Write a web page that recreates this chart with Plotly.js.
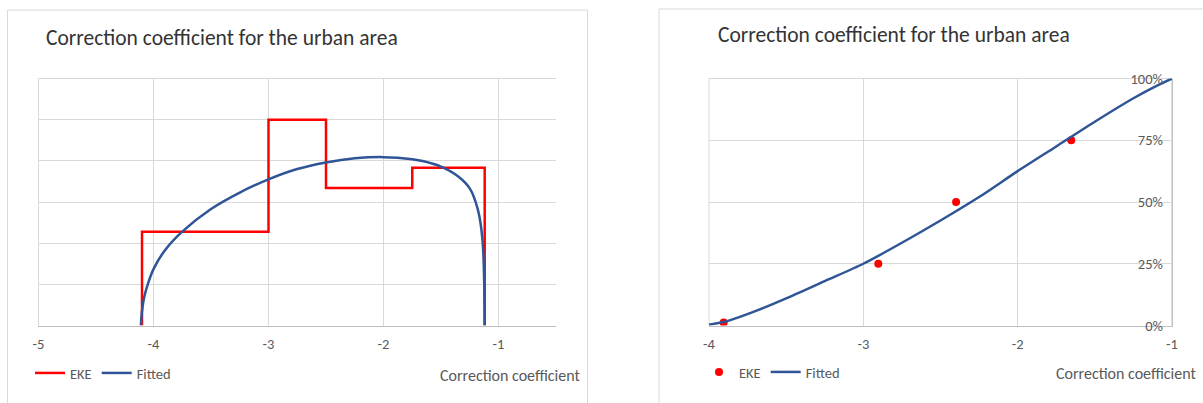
<!DOCTYPE html>
<html>
<head>
<meta charset="utf-8">
<script src="https://cdn.plot.ly/plotly-3.0.1.min.js"></script>
<style>html,body{margin:0;padding:0;background:#fff;}#chart{width:1203px;height:403px;}</style>
</head>
<body>
<div id="chart"></div>
<script>
// ---- Left panel: density (EKE histogram vs fitted) ----
const binEdges = [-4.1, -3.0, -2.5, -1.75, -1.12];
const binHeights = [0.228, 0.5, 0.334, 0.383];
const pdfX = [-4.11, -4.10, -4.08, -4.05, -4.0, -3.9, -3.75, -3.5, -3.25, -3.0, -2.75, -2.5, -2.25, -2.0, -1.75, -1.65, -1.5, -1.35, -1.25, -1.18, -1.14, -1.12];
const pdfY = [0, 0.035, 0.07, 0.1, 0.137, 0.183, 0.228, 0.283, 0.323, 0.355, 0.38, 0.396, 0.406, 0.409, 0.404, 0.399, 0.386, 0.362, 0.333, 0.282, 0.21, 0];
const leftTickVals = [-5, -4, -3, -2, -1];
const leftTickText = ['-5', '-4', '-3', '-2', '-1'];

// ---- Right panel: cumulative (EKE quantiles vs fitted) ----
const ekeX = [-3.905, -2.903, -2.399, -1.653];
const ekeY = [0.012, 0.25, 0.5, 0.75];
const cdfX = [-4.0, -3.9, -3.8, -3.7, -3.5, -3.25, -3.0, -2.75, -2.5, -2.25, -2.0, -1.75, -1.5, -1.25, -1.1, -1.0];
const cdfY = [0.003, 0.015, 0.035, 0.058, 0.11, 0.18, 0.25, 0.335, 0.425, 0.52, 0.625, 0.725, 0.825, 0.92, 0.97, 1.0];
const rightTickVals = [-4, -3, -2, -1];
const rightTickText = ['-4', '-3', '-2', '-1'];
const pctVals = [0, 0.25, 0.5, 0.75, 1];
const pctText = ['0%', '25%', '50%', '75%', '100%'];

const titleText = 'Correction coefficient for the urban area';
const axisTitleText = 'Correction coefficient';

// build step outline from bins
const stepX = [binEdges[0]], stepY = [0];
for (let i = 0; i < binHeights.length; i++) {
  stepX.push(binEdges[i], binEdges[i + 1]);
  stepY.push(binHeights[i], binHeights[i]);
}
stepX.push(binEdges[binEdges.length - 1]); stepY.push(0);

const W = 1203, H = 403;
const px = v => v / W, py = v => 1 - v / H;
const FONT = 'Carlito, Calibri, Lato, sans-serif';
const RED = '#FF0000', BLUE = '#2F5597', GRID = '#D9D9D9', AXIS = '#BFBFBF', TXT = '#595959';

const traces = [
  {x: stepX, y: stepY, type: 'scatter', mode: 'lines', name: 'EKE', xaxis: 'x', yaxis: 'y',
   line: {color: RED, width: 2.5}, legend: 'legend'},
  {x: pdfX, y: pdfY, type: 'scatter', mode: 'lines', name: 'Fitted', xaxis: 'x', yaxis: 'y',
   line: {color: BLUE, width: 2.5, shape: 'spline', smoothing: 1}, legend: 'legend'},
  {x: ekeX, y: ekeY, type: 'scatter', mode: 'markers', name: 'EKE', xaxis: 'x2', yaxis: 'y2',
   marker: {color: RED, size: 8}, legend: 'legend2'},
  {x: cdfX, y: cdfY, type: 'scatter', mode: 'lines', name: 'Fitted', xaxis: 'x2', yaxis: 'y2',
   line: {color: BLUE, width: 2.5, shape: 'spline', smoothing: 0.8}, legend: 'legend2'}
];

const tickFont = {family: FONT, size: 14.5, color: TXT};
const legendCommon = {orientation: 'h', xanchor: 'left', yanchor: 'middle', bgcolor: 'rgba(0,0,0,0)',
  font: {family: FONT, size: 14.5, color: TXT}, itemwidth: 30, tracegroupgap: 0};

const gridLine = (xr, yr, x0, x1, y0, y1, c) => ({type: 'line', xref: xr, yref: yr, x0, x1, y0, y1,
  line: {color: c, width: 1}, layer: 'below'});

const layout = {
  width: W, height: H, autosize: false,
  margin: {l: 0, r: 0, t: 0, b: 0, pad: 0},
  paper_bgcolor: '#fff', plot_bgcolor: '#fff',
  font: {family: FONT, color: TXT},
  showlegend: true,
  xaxis: {domain: [px(38.5), px(556)], anchor: 'y', range: [-5, -0.5],
    tickvals: leftTickVals, ticktext: leftTickText, ticks: '', ticklabelstandoff: 5,
    showgrid: true, gridcolor: GRID, gridwidth: 1, zeroline: false,
    showline: true, linecolor: AXIS, linewidth: 1, tickfont: tickFont, fixedrange: true},
  yaxis: {domain: [py(325.5), py(78.5)], anchor: 'x', range: [0, 0.6], dtick: 0.1, tick0: 0,
    showticklabels: false, ticks: '', showgrid: true, gridcolor: GRID, gridwidth: 1, zeroline: false,
    showline: true, linecolor: GRID, linewidth: 1, fixedrange: true},
  xaxis2: {domain: [px(709), px(1172)], anchor: 'y2', range: [-4, -1],
    tickvals: rightTickVals, ticktext: rightTickText, ticks: '', ticklabelstandoff: 5,
    ticklabeloverflow: 'allow',
    showgrid: true, gridcolor: GRID, gridwidth: 1, zeroline: false,
    showline: true, linecolor: AXIS, linewidth: 1, tickfont: tickFont, fixedrange: true},
  yaxis2: {domain: [py(325.5), py(78.5)], anchor: 'x2', side: 'right', range: [0, 1],
    tickvals: pctVals, ticktext: pctText, ticks: '', ticklabelposition: 'inside', ticklabelstandoff: 9,
    ticklabeloverflow: 'allow',
    showgrid: true, gridcolor: GRID, gridwidth: 1, zeroline: false,
    showline: true, linecolor: AXIS, linewidth: 1, tickfont: tickFont, fixedrange: true},
  legend: Object.assign({x: px(30), y: py(373)}, legendCommon),
  legend2: Object.assign({x: px(699), y: py(372)}, legendCommon),
  shapes: [
    {type: 'rect', xref: 'paper', yref: 'paper', x0: px(7.5), x1: px(587.5), y0: -0.1, y1: py(10),
     line: {color: GRID, width: 1}, fillcolor: 'rgba(0,0,0,0)', layer: 'below'},
    {type: 'rect', xref: 'paper', yref: 'paper', x0: px(659), x1: 1.05, y0: -0.1, y1: py(9),
     line: {color: GRID, width: 1}, fillcolor: 'rgba(0,0,0,0)', layer: 'below'},
    // edge grid lines that Plotly omits at the plot borders
    gridLine('x domain', 'y domain', 0, 1, 1, 1, GRID),
    gridLine('x domain', 'y domain', 0, 0, 0, 1, GRID),
    gridLine('x2 domain', 'y2 domain', 0, 1, 1, 1, GRID),
    gridLine('x2 domain', 'y2 domain', 0, 0, 0, 1, GRID),
    gridLine('x2 domain', 'y2 domain', 1, 1, 0, 1, AXIS)
  ],
  annotations: [
    {text: titleText, xref: 'paper', yref: 'paper', x: px(44), y: py(38), xanchor: 'left', yanchor: 'middle',
     showarrow: false, font: {family: FONT, size: 21.5, color: '#333333'}},
    {text: titleText, xref: 'paper', yref: 'paper', x: px(716), y: py(35), xanchor: 'left', yanchor: 'middle',
     showarrow: false, font: {family: FONT, size: 21.5, color: '#333333'}},
    {text: axisTitleText, xref: 'paper', yref: 'paper', x: px(582), y: py(375), xanchor: 'right', yanchor: 'middle',
     showarrow: false, font: {family: FONT, size: 16, color: TXT}},
    {text: axisTitleText, xref: 'paper', yref: 'paper', x: px(1198), y: py(373), xanchor: 'right', yanchor: 'middle',
     showarrow: false, font: {family: FONT, size: 16, color: TXT}}
  ]
};

Plotly.newPlot('chart', traces, layout, {displayModeBar: false, staticPlot: true});
</script>
</body>
</html>
